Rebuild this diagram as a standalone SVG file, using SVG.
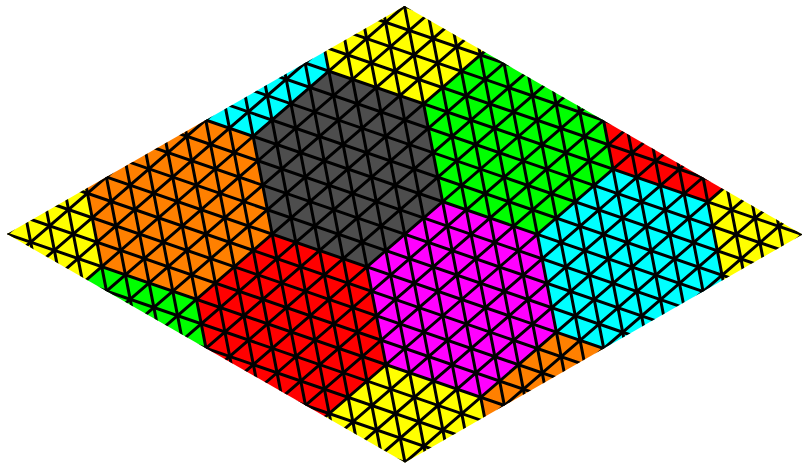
<svg xmlns="http://www.w3.org/2000/svg" width="802" height="465" viewBox="0 0 802 465">
<defs>
<clipPath id="rh"><polygon points="7,234 404.5,6 802.5,234.5 405,462.5"/></clipPath>
<polygon id="hx" points="4,0 0,4 -4,4 -4,0 0,-4 4,-4"/>
<style>
.y{fill:#ffff00}.o{fill:#ff8000}.k{fill:#4d4d4d}.g{fill:#00ff00}.r{fill:#ff0000}.m{fill:#ff00ff}.c{fill:#00ffff}
.grid{fill:none;stroke:#000;stroke-width:3;vector-effect:non-scaling-stroke}
</style>
</defs>
<g clip-path="url(#rh)">
<g transform="matrix(18.923,-16.292,23.685,8.167,7,234)">
<g id="hexagons">
<use href="#hx" x="12" y="0" class="c"/>
<use href="#hx" x="16" y="4" class="y"/>
<use href="#hx" x="0" y="0" class="y"/>
<use href="#hx" x="4" y="4" class="o"/>
<use href="#hx" x="8" y="8" class="k"/>
<use href="#hx" x="12" y="12" class="g"/>
<use href="#hx" x="16" y="16" class="r"/>
<use href="#hx" x="-4" y="8" class="g"/>
<use href="#hx" x="0" y="12" class="r"/>
<use href="#hx" x="4" y="16" class="m"/>
<use href="#hx" x="8" y="20" class="c"/>
<use href="#hx" x="12" y="24" class="y"/>
<use href="#hx" x="-4" y="20" class="y"/>
<use href="#hx" x="0" y="24" class="o"/>
</g>
<g id="grid">
<path class="grid" d="M-5 0H17M-5 1H17M-5 2H17M-5 3H17M-5 4H17M-5 5H17M-5 6H17M-5 7H17M-5 8H17M-5 9H17M-5 10H17M-5 11H17M-5 12H17M-5 13H17M-5 14H17M-5 15H17M-5 16H17M-5 17H17M-5 18H17M-5 19H17M-5 20H17M-5 21H17M-5 22H17M-5 23H17M-5 24H17"/>
<path class="grid" d="M-4-1V25M-3-1V25M-2-1V25M-1-1V25M0-1V25M1-1V25M2-1V25M3-1V25M4-1V25M5-1V25M6-1V25M7-1V25M8-1V25M9-1V25M10-1V25M11-1V25M12-1V25M13-1V25M14-1V25M15-1V25M16-1V25"/>
<path class="grid" d="M-5 5l22-22M-5 6l22-22M-5 7l22-22M-5 8l22-22M-5 9l22-22M-5 10l22-22M-5 11l22-22M-5 12l22-22M-5 13l22-22M-5 14l22-22M-5 15l22-22M-5 16l22-22M-5 17l22-22M-5 18l22-22M-5 19l22-22M-5 20l22-22M-5 21l22-22M-5 22l22-22M-5 23l22-22M-5 24l22-22M-5 25l22-22M-5 26l22-22M-5 27l22-22M-5 28l22-22M-5 29l22-22M-5 30l22-22M-5 31l22-22M-5 32l22-22M-5 33l22-22M-5 34l22-22M-5 35l22-22M-5 36l22-22M-5 37l22-22M-5 38l22-22M-5 39l22-22M-5 40l22-22M-5 41l22-22"/>
</g>
</g>
</g>
</svg>
